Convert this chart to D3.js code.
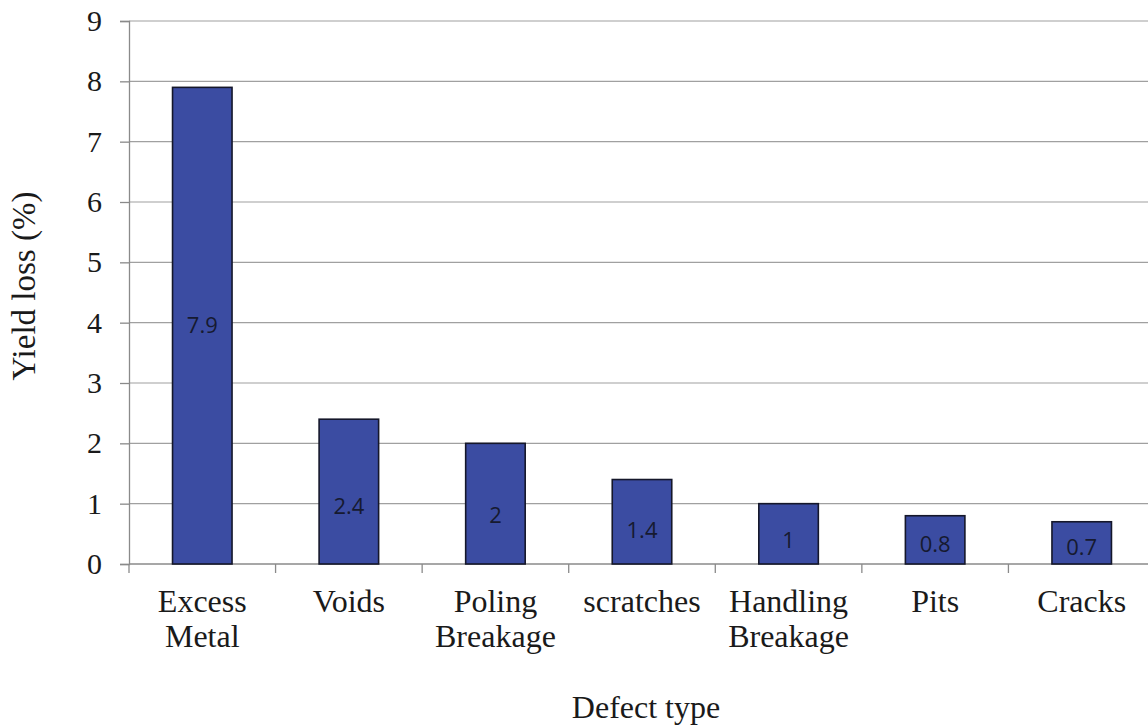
<!DOCTYPE html>
<html>
<head>
<meta charset="utf-8">
<script src="https://cdn.jsdelivr.net/npm/d3@7"></script>
<style>
  html, body { margin: 0; padding: 0; background: #fff; }
  svg { display: block; }
  .serif { font-family: "Liberation Serif", "Times New Roman", Times, "DejaVu Serif", serif; }
</style>
</head>
<body>
<svg id="chart" width="1148" height="728"></svg>
<script>
// Yield loss by defect type
const categories = [["Excess", "Metal"], ["Voids"], ["Poling", "Breakage"], ["scratches"], ["Handling", "Breakage"], ["Pits"], ["Cracks"]];
const yieldLoss = [7.9, 2.4, 2, 1.4, 1, 0.8, 0.7];
const yTicks = [0, 1, 2, 3, 4, 5, 6, 7, 8, 9];

const data = categories.map((c, i) => ({ key: c.join(" "), lines: c, value: yieldLoss[i] }));

const svg = d3.select("#chart");
const plotLeft = 129, plotRight = 1155, plotTop = 21, plotBottom = 564;

const x = d3.scaleBand()
  .domain(data.map(d => d.key))
  .range([plotLeft, plotRight])
  .paddingInner(0.594)
  .paddingOuter(0.297);

const y = d3.scaleLinear().domain([0, 9]).range([plotBottom, plotTop]);

// horizontal gridlines
svg.append("g")
  .selectAll("line")
  .data(yTicks.filter(t => t > 0))
  .join("line")
  .attr("x1", plotLeft).attr("x2", plotRight)
  .attr("y1", d => y(d)).attr("y2", d => y(d))
  .attr("stroke", "#a0a0a0")
  .attr("stroke-width", 1.2);

// y axis
const yAxis = svg.append("g")
  .attr("transform", `translate(${plotLeft},0)`)
  .call(d3.axisLeft(y).tickValues(yTicks).tickSize(9).tickPadding(18).tickFormat(d3.format("d")));
yAxis.attr("font-family", null).attr("font-size", null);
yAxis.select(".domain").attr("stroke", "#8a8a8a").attr("stroke-width", 1.3);
yAxis.selectAll(".tick line").attr("stroke", "#8a8a8a").attr("stroke-width", 1.3);
yAxis.selectAll(".tick text")
  .attr("class", "serif")
  .style("font-size", "30px")
  .attr("fill", "#1a1a1a");

// x axis with ticks at band boundaries
const xAxisG = svg.append("g").attr("transform", `translate(0,${plotBottom})`);
xAxisG.append("line")
  .attr("x1", plotLeft).attr("x2", plotRight)
  .attr("stroke", "#8a8a8a").attr("stroke-width", 1.3);
const step = x.step();
xAxisG.selectAll("line.tick")
  .data(d3.range(data.length + 1))
  .join("line")
  .attr("class", "tick")
  .attr("x1", i => plotLeft + i * step).attr("x2", i => plotLeft + i * step)
  .attr("y1", 0).attr("y2", 9)
  .attr("stroke", "#8a8a8a").attr("stroke-width", 1.3);

// category labels (wrapped)
const labels = svg.append("g")
  .selectAll("text")
  .data(data)
  .join("text")
  .attr("class", "serif")
  .attr("x", d => x(d.key) + x.bandwidth() / 2)
  .attr("y", 612)
  .attr("text-anchor", "middle")
  .style("font-size", "32px")
  .attr("fill", "#1a1a1a");
labels.selectAll("tspan")
  .data(d => d.lines.map(l => ({ l, x: x(d.key) + x.bandwidth() / 2 })))
  .join("tspan")
  .attr("x", t => t.x)
  .attr("dy", (t, i) => i === 0 ? 0 : 35)
  .text(t => t.l);

// bars
svg.append("g")
  .selectAll("rect")
  .data(data)
  .join("rect")
  .attr("x", d => x(d.key))
  .attr("y", d => y(d.value))
  .attr("width", x.bandwidth())
  .attr("height", d => y(0) - y(d.value))
  .attr("fill", "#3b4ca2")
  .attr("stroke", "#15172a")
  .attr("stroke-width", 1.6);

// value labels inside bars
const labelAt = v => v > 4 ? v / 2 : v * 0.4;
svg.append("g")
  .selectAll("text")
  .data(data)
  .join("text")
  .attr("x", d => x(d.key) + x.bandwidth() / 2)
  .attr("y", d => y(labelAt(d.value)))
  .attr("dy", "0.35em")
  .attr("text-anchor", "middle")
  .style("font-family", "'Open Sans', 'Liberation Sans', sans-serif")
  .style("font-size", "22px")
  .attr("fill", "#161a30")
  .text(d => d.value);

// axis titles
svg.append("text")
  .attr("class", "serif")
  .attr("transform", "translate(35,286) rotate(-90)")
  .attr("text-anchor", "middle")
  .style("font-size", "33px")
  .attr("fill", "#1a1a1a")
  .text("Yield loss (%)");

svg.append("text")
  .attr("class", "serif")
  .attr("x", 646)
  .attr("y", 718)
  .attr("text-anchor", "middle")
  .style("font-size", "32px")
  .attr("fill", "#1a1a1a")
  .text("Defect type");
</script>
</body>
</html>
